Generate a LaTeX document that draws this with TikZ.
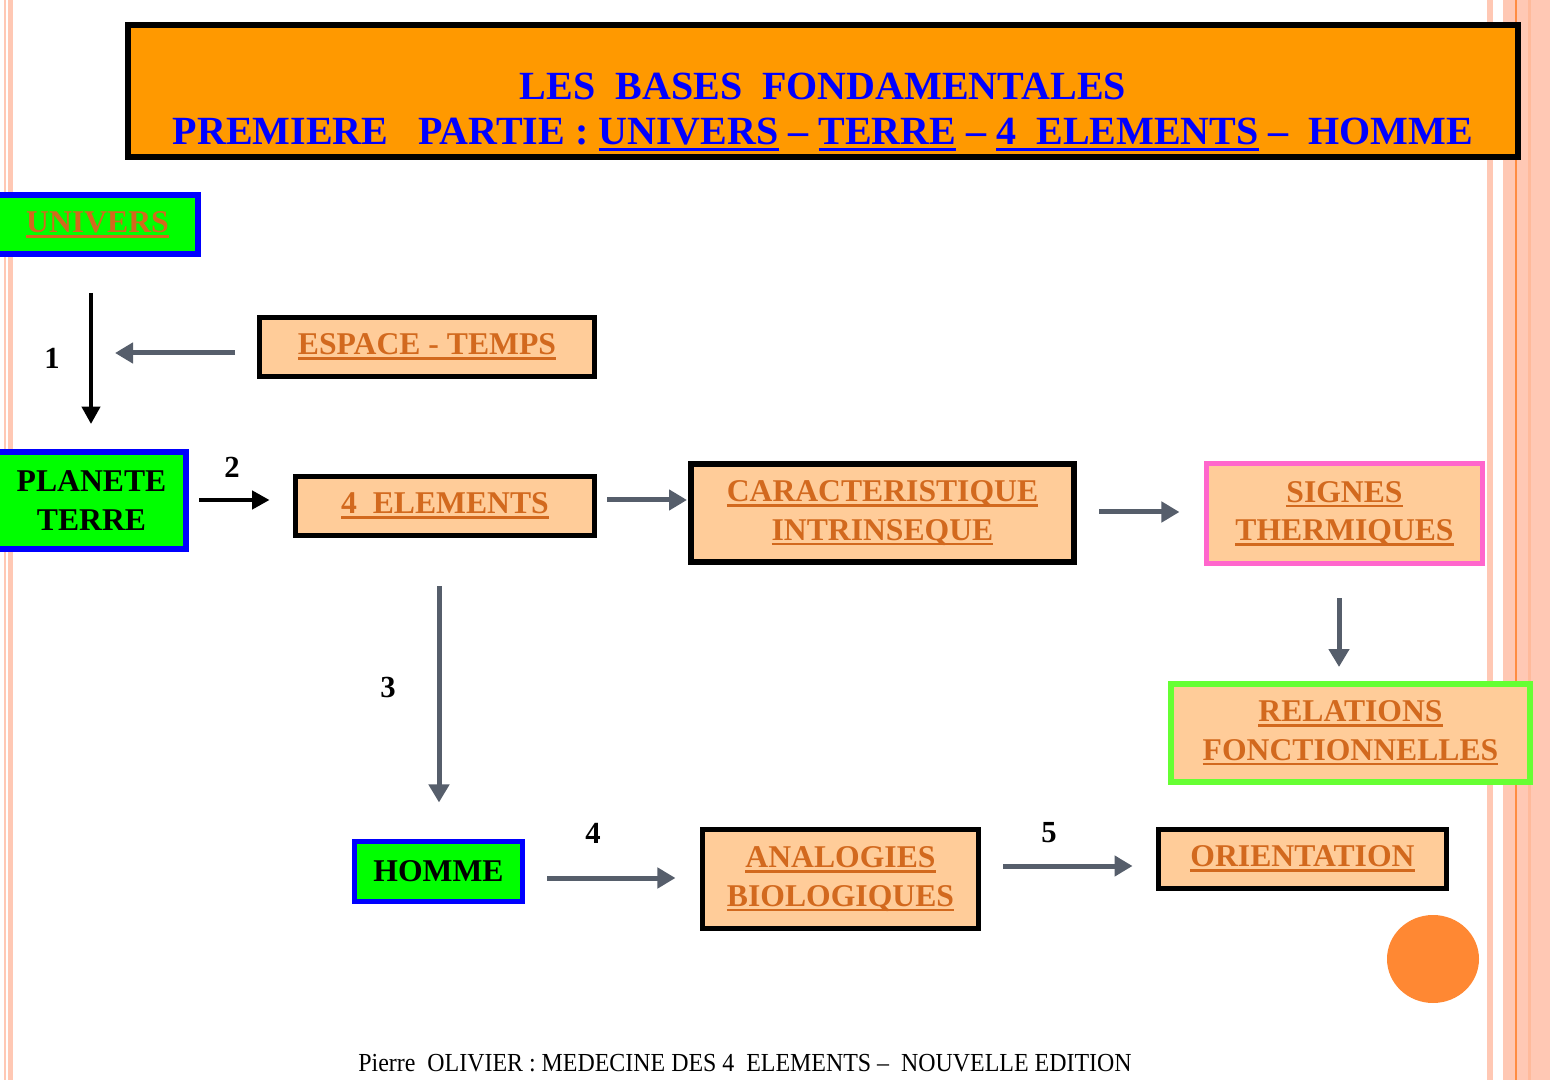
\documentclass[tikz,border=0pt]{standalone}
\usepackage{fontspec}
\setmainfont{Liberation Serif}
\usetikzlibrary{arrows.meta}

\definecolor{titleorange}{RGB}{255,153,0}
\definecolor{peach}{RGB}{255,204,153}
\definecolor{brick}{RGB}{210,105,30}
\definecolor{boxgreen}{RGB}{0,255,0}
\definecolor{boxblue}{RGB}{0,0,255}
\definecolor{signpink}{RGB}{255,102,204}
\definecolor{relgreen}{RGB}{102,255,51}
\definecolor{slate}{RGB}{86,94,107}
\definecolor{stripe}{RGB}{255,200,180}
\definecolor{stripedark}{RGB}{255,186,155}
\definecolor{stripeline}{RGB}{255,140,66}
\definecolor{dotorange}{RGB}{255,136,51}

\newcommand\ulbar[1]{\leavevmode\setbox0=\hbox{#1}\rlap{\rule[-0.16em]{\wd0}{0.08em}}\box0\relax}
\newcommand\boxfont{\fontsize{23.75}{29}\selectfont\bfseries}
\newcommand\numfont{\fontsize{23}{26}\selectfont\bfseries}

\tikzset{every picture/.style={line width=0.75pt},
  peachbox/.style={draw=black, fill=peach, line width=3.75pt, inner sep=0pt, align=center, text=brick, font=\boxfont},
  greenbox/.style={draw=boxblue, fill=boxgreen, line width=4.5pt, inner sep=0pt, align=center, font=\boxfont},
  numlabel/.style={inner sep=0.75pt, font=\numfont},
  blackarrow/.style={draw=black, line width=3pt, -{Triangle[length=13pt,width=13.5pt]}},
  grayarrow/.style={draw=slate, line width=3.75pt, -{Triangle[length=13.5pt,width=15pt]}}
}

\begin{document}
\begin{tikzpicture}[x=0.75pt,y=0.75pt,yscale=-1,xscale=1]
\useasboundingbox (0,0) rectangle (1550,1080);

%Shape: Stripes
\fill [stripe] (4,0) rectangle (6,1080) ;
\fill [stripe] (8,0) rectangle (13,1080) ;
\fill [stripe] (1487,0) rectangle (1493,1080) ;
\fill [stripe] (1503,0) rectangle (1550,1080) ;
\fill [stripedark] (1528,0) rectangle (1531,1080) ;
\fill [stripeline] (1515,0) rectangle (1517,1080) ;

%Shape: Title
\draw (823,91) node (title) [draw=black, fill=titleorange, line width=4.5pt, minimum width=1042.5pt, minimum height=99pt] {} ;
% Text Node
\draw (823,112) node (titletext) [inner sep=0pt, align=center, text=boxblue, font=\fontsize{30}{33.75}\selectfont\bfseries]
  {LES\ \ BASES\ \ FONDAMENTALES\\
   PREMIERE\ \ \ PARTIE : \ulbar{UNIVERS} -- \ulbar{TERRE} -- \ulbar{4\ \ ELEMENTS} --\ \ HOMME} ;

%Shape: Boxes
\draw (97.5,224.5) node (univers) [greenbox, text=brick, minimum width=150.75pt, minimum height=44.25pt] {\ulbar{UNIVERS}} ;
\draw (427,347) node (espace) [peachbox, minimum width=251.25pt, minimum height=44.25pt] {\ulbar{ESPACE - TEMPS}} ;
\draw (91.5,500.5) node (planete) [greenbox, minimum width=141.75pt, minimum height=72.75pt] {PLANETE\\TERRE} ;
\draw (445,506) node (elements) [peachbox, minimum width=224.25pt, minimum height=44.25pt] {\ulbar{4\ \ ELEMENTS}} ;
\draw (882.5,513) node (carac) [peachbox, line width=4.5pt, minimum width=287.25pt, minimum height=73.5pt] {\ulbar{CARACTERISTIQUE}\\\ulbar{INTRINSEQUE}} ;
\draw (1344.5,513.5) node (signes) [peachbox, draw=signpink, minimum width=207pt, minimum height=75pt] {\ulbar{SIGNES}\\\ulbar{THERMIQUES}} ;
\draw (1350.5,733) node (relations) [peachbox, draw=relgreen, line width=4.5pt, minimum width=269.25pt, minimum height=73.5pt] {\ulbar{RELATIONS}\\\ulbar{FONCTIONNELLES}} ;
\draw (438.5,871.5) node (homme) [greenbox, line width=3.75pt, minimum width=126pt, minimum height=45pt] {HOMME} ;
\draw (840.5,879) node (analogies) [peachbox, minimum width=207pt, minimum height=74.25pt] {\ulbar{ANALOGIES}\\\ulbar{BIOLOGIQUES}} ;
\draw (1302.5,859) node (orientation) [peachbox, minimum width=216pt, minimum height=44.25pt] {\ulbar{ORIENTATION}} ;

%Straight Lines
\coordinate (u1) at (91,293) ;
\coordinate (et) at (235,353) ;
\coordinate (p2) at (199,500) ;
\coordinate (e2c) at (607,500) ;
\coordinate (c2s) at (1099,512) ;
\coordinate (s2r) at (1339,598) ;
\coordinate (e2h) at (439,586) ;
\coordinate (h2a) at (547,878) ;
\coordinate (a2o) at (1003,866) ;
\draw [blackarrow, shorten >=18.75pt] (u1) -- (u1 |- planete.north) ;
\draw [grayarrow, shorten >=18pt] (et) -- (u1 |- et) ;
\draw [blackarrow, shorten >=17.6pt] (p2) -- (p2 -| elements.west) ;
\draw [grayarrow, shorten >=0.75pt] (e2c) -- (e2c -| carac.west) ;
\draw [grayarrow, shorten >=18.4pt] (c2s) -- (c2s -| signes.west) ;
\draw [grayarrow, shorten >=10.5pt] (s2r) -- (s2r |- relations.north) ;
\draw [grayarrow, shorten >=27.4pt] (e2h) -- (e2h |- homme.north) ;
\draw [grayarrow, shorten >=18.4pt] (h2a) -- (h2a -| analogies.west) ;
\draw [grayarrow, shorten >=17.6pt] (a2o) -- (a2o -| orientation.west) ;

% Text Node
\draw (52,358) node (num1) [numlabel] {1} ;
\draw (232,467) node (num2) [numlabel] {2} ;
\draw (388,687) node (num3) [numlabel] {3} ;
\draw (593,833) node (num4) [numlabel] {4} ;
\draw (1049,833) node (num5) [numlabel] {5} ;

%Shape: Circle
\fill [dotorange] (1433,959) ellipse [x radius=46, y radius=44] ;

% Text Node
\draw (745,1063) node (footer) [inner sep=0pt, font=\fontsize{19.5}{22}\selectfont] {\scalebox{0.92}[1]{Pierre\ \ OLIVIER : MEDECINE DES 4\ \ ELEMENTS --\ \ NOUVELLE EDITION}} ;

\end{tikzpicture}
\end{document}
